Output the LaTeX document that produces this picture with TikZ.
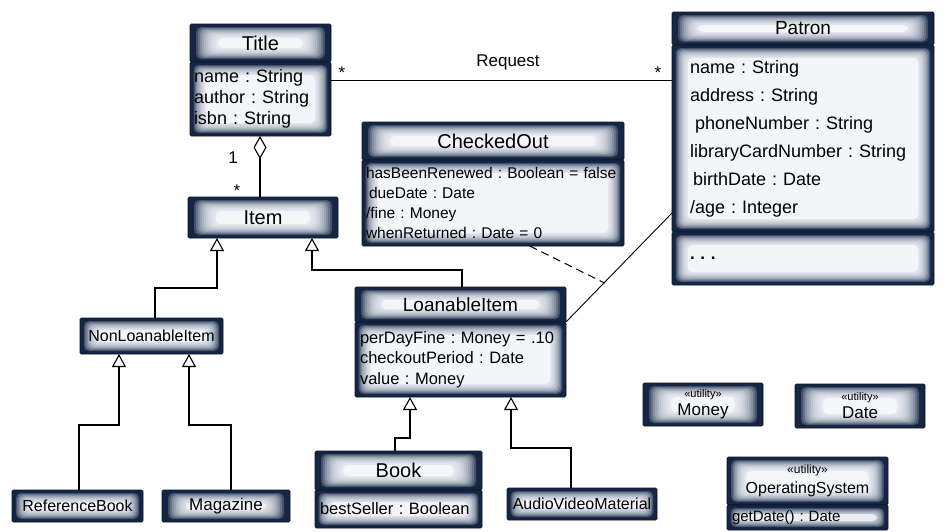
\documentclass[tikz,border=0pt]{standalone}
\usepackage{fontspec}
\setmainfont{Liberation Sans}
\usetikzlibrary{arrows.meta,calc}
\definecolor{navy}{RGB}{20,38,68}
\definecolor{navyline}{RGB}{10,22,40}
\definecolor{glowc}{RGB}{250,252,255}
\frenchspacing
\def\gf{2}
\def\gmax{13}
\tikzset{
  gfac/.code={\def\gf{#1}},
  gdepth/.code={\def\gmax{#1}},
  comp/.style={draw=navyline, line width=0.8pt, fill=navy, inner sep=5pt, outer sep=0pt,
    rounded corners=1.5pt, anchor=north west, text=black,
    path picture={
      \foreach \d in {3,...,\gmax}{
        \fill[glowc, opacity=0.2, rounded corners=5pt]
          ($(path picture bounding box.south west)+(\gf*\d pt,\d pt)$) rectangle
          ($(path picture bounding box.north east)-(\gf*\d pt,\d pt)$);
      }
      \fill[glowc, opacity=0.7, rounded corners=5pt]
          ($(path picture bounding box.south west)+(\gf*\gmax pt,\gmax pt)$) rectangle
          ($(path picture bounding box.north east)-(\gf*\gmax pt,\gmax pt)$);
    }},
  hdr/.style={comp, font=\fontsize{20}{22}\selectfont, align=center},
  smallhdr/.style={comp, gdepth=12, font=\fontsize{16}{18}\selectfont, align=center},
  attr/.style={comp, gfac=1.2, align=left},
  gen/.style={draw=black, line width=1.1pt, -{Triangle[open, width=14pt, length=13pt, line width=1.1pt]}},
  assoc/.style={draw=black, line width=0.9pt},
  lbl/.style={inner sep=0pt, font=\fontsize{17}{19}\selectfont},
}
\begin{document}
\begin{tikzpicture}[x=1pt,y=-1pt]
\useasboundingbox[fill=white] (0,0) rectangle (952,531);

% ---- Title
\node[hdr, gdepth=14, minimum width=141, minimum height=38] (titleH) at (190,24) {Title};
\node[attr, font=\fontsize{18}{21}\selectfont, inner xsep=4pt, text width=133, minimum width=141, minimum height=74] (titleA) at (titleH.south west) {name : String\\author : String\\isbn : String};

% ---- Item
\node[hdr, gdepth=14, minimum width=150, minimum height=41] (item) at (188,197) {Item};

% ---- Patron
\node[hdr, font=\fontsize{19}{21}\selectfont, minimum width=262, minimum height=33] (patronH) at (672,12) {Patron};
\node[attr, font=\fontsize{18}{28}\selectfont, inner xsep=18pt, text width=226, minimum width=262, minimum height=187] (patronA) at (patronH.south west) {name : String\\address : String\\\hspace{5pt}phoneNumber : String\\libraryCardNumber : String\\\hspace{3pt}birthDate : Date\\/age : Integer};
\node[attr, font=\fontsize{17}{20}\selectfont\bfseries, inner xsep=18pt, text width=226, minimum width=262, minimum height=53] (patronO) at (patronA.south west) {. . .};

% ---- CheckedOut
\node[hdr, gdepth=14, minimum width=262, minimum height=38] (coH) at (362,122) {CheckedOut};
\node[attr, font=\fontsize{15.5}{20}\selectfont, inner xsep=4pt, text width=254, minimum width=262, minimum height=86] (coA) at (coH.south west) {hasBeenRenewed : Boolean = false\\\hspace{3pt}dueDate : Date\\/fine : Money\\whenReturned : Date = 0};

% ---- LoanableItem
\node[hdr, font=\fontsize{19}{21}\selectfont, minimum width=211, minimum height=35] (liH) at (355,287) {LoanableItem};
\node[attr, font=\fontsize{16.5}{20.5}\selectfont, inner xsep=5pt, text width=201, minimum width=211, minimum height=75] (liA) at (liH.south west) {perDayFine : Money = .10\\checkoutPeriod : Date\\value : Money};

% ---- NonLoanableItem and children
\node[smallhdr, gfac=1.3, minimum width=143, minimum height=36] (nli) at (80,318) {NonLoanableItem};
\node[smallhdr, gfac=1.3, minimum width=131, minimum height=32] (rb) at (12,490) {ReferenceBook};
\node[smallhdr, font=\fontsize{17}{19}\selectfont, minimum width=128, minimum height=32] (mag) at (162,490) {Magazine};

% ---- Book, AudioVideoMaterial
\node[hdr, gdepth=14, minimum width=167, minimum height=39] (bookH) at (315,451) {Book};
\node[attr, gdepth=12, font=\fontsize{16.5}{18}\selectfont, inner xsep=5pt, text width=157, minimum width=167, minimum height=38] (bookA) at (bookH.south west) {bestSeller : Boolean};
\node[smallhdr, gfac=1.2, inner xsep=3pt, minimum width=150, minimum height=32] (avm) at (507,488) {AudioVideoMaterial};

% ---- utilities
\node[smallhdr, gdepth=14, font=\fontsize{17}{18}\selectfont, minimum width=120, minimum height=43] (money) at (643,383) {{\fontsize{11}{12}\selectfont «utility»}\\Money};
\node[smallhdr, gdepth=14, font=\fontsize{17}{18}\selectfont, minimum width=130, minimum height=44] (date) at (795,384) {{\fontsize{11}{12}\selectfont «utility»}\\Date};
\node[smallhdr, gdepth=14, gfac=1.4, minimum width=161, minimum height=48] (osH) at (727,457) {{\fontsize{12}{14}\selectfont «utility»}\\[2pt]OperatingSystem};
\node[attr, gdepth=9, font=\fontsize{15}{17}\selectfont, inner xsep=5pt, text width=151, minimum width=161, minimum height=25] (osO) at (osH.south west) {getDate() : Date};

% ---- Request association
\coordinate (rq1) at ($(titleA.north east)+(0,18)$);
\draw[assoc] (rq1) -- (rq1 -| patronA.west);
\node[lbl] (rqlbl) at (508,62) {Request};
\node[lbl] (rqs1) at (342,73) {*};
\node[lbl] (rqs2) at (658,73) {*};

% ---- aggregation Title <> Item
\coordinate (ag) at ($(item.north west)+(72,0)$);
\draw[line width=1.1pt, -{Diamond[open, width=13pt, length=23pt, line width=1.1pt]}] (ag) -- (ag |- titleA.south);
\node[lbl] (m1) at (233,158) {1};
\node[lbl] (m2) at (237,191) {*};

% ---- LoanableItem -- Patron, with association class CheckedOut
\coordinate (pa) at ($(patronA.south west)+(0,-19)$);
\draw[assoc] (liH.south east) -- (pa);
\coordinate (mid) at ($(liH.south east)!0.36!(pa)$);
\coordinate (cod) at ($(coA.south west)!0.64!(coA.south east)$);
\draw[line width=1pt, dash pattern=on 8pt off 5pt] (cod) -- (mid);

% ---- generalizations
\coordinate (g1a) at ($(nli.north west)+(75,0)$);
\coordinate (g1b) at ($(item.south west)+(29,0)$);
\draw[gen] (g1a) -- ++(0,-30) -| (g1b);

\coordinate (g2a) at ($(liH.north west)+(107,0)$);
\coordinate (g2b) at ($(item.south west)+(124,0)$);
\draw[gen] (g2a) -- ++(0,-17) -| (g2b);

\coordinate (g3a) at ($(rb.north west)+(67,0)$);
\coordinate (g3b) at ($(nli.south west)+(39,0)$);
\draw[gen] (g3a) -- ++(0,-65) -| (g3b);

\coordinate (g4a) at ($(mag.north west)+(69,0)$);
\coordinate (g4b) at ($(nli.south west)+(109,0)$);
\draw[gen] (g4a) -- ++(0,-65) -| (g4b);

\coordinate (g5a) at ($(bookH.north west)+(80,0)$);
\coordinate (g5b) at ($(liA.south west)+(55,0)$);
\draw[gen] (g5a) -- ++(0,-13) -| (g5b);

\coordinate (g6a) at ($(avm.north west)+(64,0)$);
\coordinate (g6b) at ($(liA.south west)+(156,0)$);
\draw[gen] (g6a) -- ++(0,-40) -| (g6b);
\end{tikzpicture}
\end{document}
